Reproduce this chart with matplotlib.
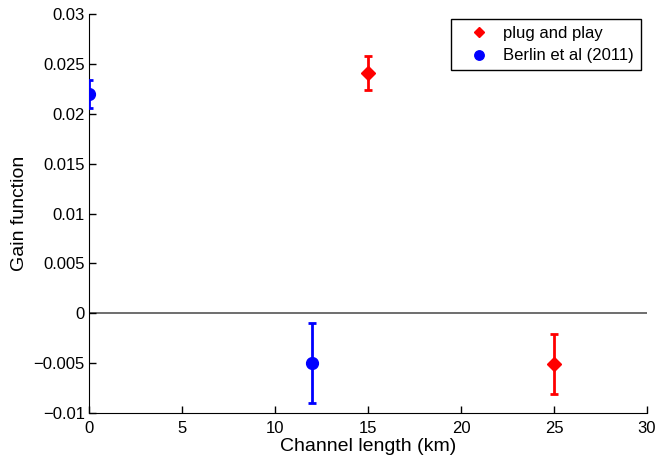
import matplotlib
matplotlib.use("Agg")
import matplotlib.pyplot as plt

# plug and play
pp_length = [15, 25]
pp_gain = [0.0241, -0.0051]
pp_err = [0.0017, 0.0030]

# Berlin et al (2011)
berlin_length = [0, 12]
berlin_gain = [0.0220, -0.0050]
berlin_err = [0.0014, 0.0040]

x_ticks = [0, 5, 10, 15, 20, 25, 30]
y_ticks = [-0.01, -0.005, 0, 0.005, 0.01, 0.015, 0.02, 0.025, 0.03]
y_tick_labels = ['\u22120.01', '\u22120.005', '0', '0.005', '0.01', '0.015', '0.02', '0.025', '0.03']

plt.rcParams['font.family'] = ['Liberation Sans', 'DejaVu Sans']

fig = plt.figure(figsize=(6.72, 4.62), dpi=100)
ax = fig.add_axes([89 / 672, 1 - 413 / 462, (647 - 89) / 672, (413 - 14) / 462])

ax.axhline(0, color='#555555', lw=1.2, zorder=1)

ax.errorbar(pp_length, pp_gain, yerr=pp_err, fmt='D', color='red', ms=7,
            elinewidth=2, capsize=3, capthick=2, label='plug and play', zorder=3)
ax.errorbar(berlin_length, berlin_gain, yerr=berlin_err, fmt='o', color='blue', ms=8.5,
            elinewidth=2, capsize=3, capthick=2, label='Berlin et al (2011)', zorder=3)

ax.set_xlim(0, 30)
ax.set_ylim(-0.01, 0.03)
ax.set_xticks(x_ticks)
ax.set_yticks(y_ticks)
ax.set_yticklabels(y_tick_labels)
ax.tick_params(direction='in', length=5, labelsize=12, width=1)
ax.tick_params(axis='x', pad=6)
ax.tick_params(axis='y', pad=3)
ax.spines['top'].set_visible(False)
ax.spines['right'].set_visible(False)

ax.set_xlabel('Channel length (km)', fontsize=14, labelpad=1)
ax.set_ylabel('Gain function', fontsize=14, labelpad=4)

handles, labels = ax.get_legend_handles_labels()
handles = [h[0] for h in handles]
leg = ax.legend(handles, labels, loc='upper right', fontsize=12, fancybox=False,
                edgecolor='black', framealpha=1, handlelength=2.6, handletextpad=0.15,
                markerscale=0.8, bbox_to_anchor=(0.989, 0.987), borderpad=0.4,
                labelspacing=0.45, borderaxespad=0)
leg.get_frame().set_linewidth(1)

fig.savefig('out.png', dpi=100)
